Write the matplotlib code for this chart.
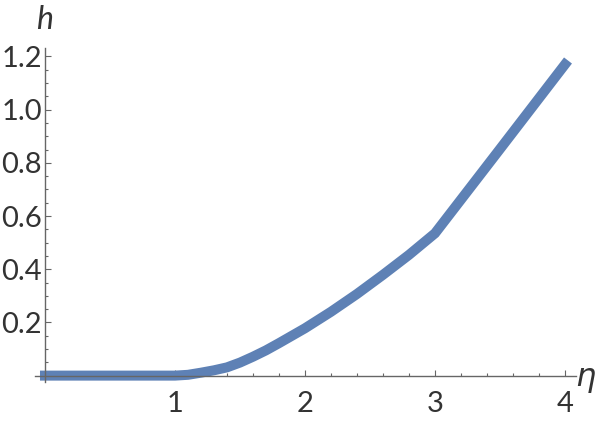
import matplotlib
matplotlib.use("Agg")
import matplotlib.pyplot as plt
import numpy as np
from matplotlib.ticker import MultipleLocator, FixedLocator

plt.rcParams['font.family'] = ['Lato', 'DejaVu Sans']

# values
eta = [0.0, 1.0, 1.1, 1.2, 1.3, 1.4, 1.5, 1.6, 1.7, 1.8, 2.0, 2.2, 2.4, 2.6,
       2.8, 3.0, 3.5, 4.0]
h = [0.0, 0.0, 0.003, 0.011, 0.02, 0.031, 0.049, 0.071, 0.095, 0.122, 0.178,
     0.24, 0.307, 0.379, 0.454, 0.535, 0.852, 1.17]
xticks = [1, 2, 3, 4]
yticks = [0.2, 0.4, 0.6, 0.8, 1.0, 1.2]

fig = plt.figure(figsize=(6, 4.22), dpi=100)
ax = fig.add_axes([0.0583, 0.0948, 0.9017, 0.7915])

ax.plot(eta, h, color='#5E81B5', lw=7.2, solid_capstyle='projecting',
        solid_joinstyle='miter')

ax.set_xlim(-0.077, 4.085)
ax.set_ylim(-0.024, 1.232)

for side in ['top', 'right']:
    ax.spines[side].set_visible(False)
for side in ['left', 'bottom']:
    ax.spines[side].set_position(('data', 0))
    ax.spines[side].set_color('#666666')
    ax.spines[side].set_linewidth(1.0)

ax.xaxis.set_major_locator(FixedLocator(xticks))
ax.xaxis.set_minor_locator(MultipleLocator(0.2))
ax.yaxis.set_major_locator(FixedLocator(yticks))
ax.yaxis.set_minor_locator(MultipleLocator(0.05))
ax.set_yticklabels(['%.1f' % v for v in yticks])

ax.tick_params(which='both', direction='in', color='#666666', width=0.8,
               labelsize=21, labelcolor='#333333')
ax.tick_params(which='major', length=4.5)
ax.tick_params(which='minor', length=2.5)
ax.tick_params(axis='x', which='major', pad=11)
ax.tick_params(axis='y', which='major', pad=2)

fig.text(586 / 600, 1 - 380 / 422, r'$\eta$', fontsize=23, color='#333333',
         ha='center', va='center')
fig.text(45 / 600, 1 - 20 / 422, 'h', fontsize=23, color='#333333',
         ha='center', va='center', style='italic')

fig.savefig('out.png', dpi=100)
